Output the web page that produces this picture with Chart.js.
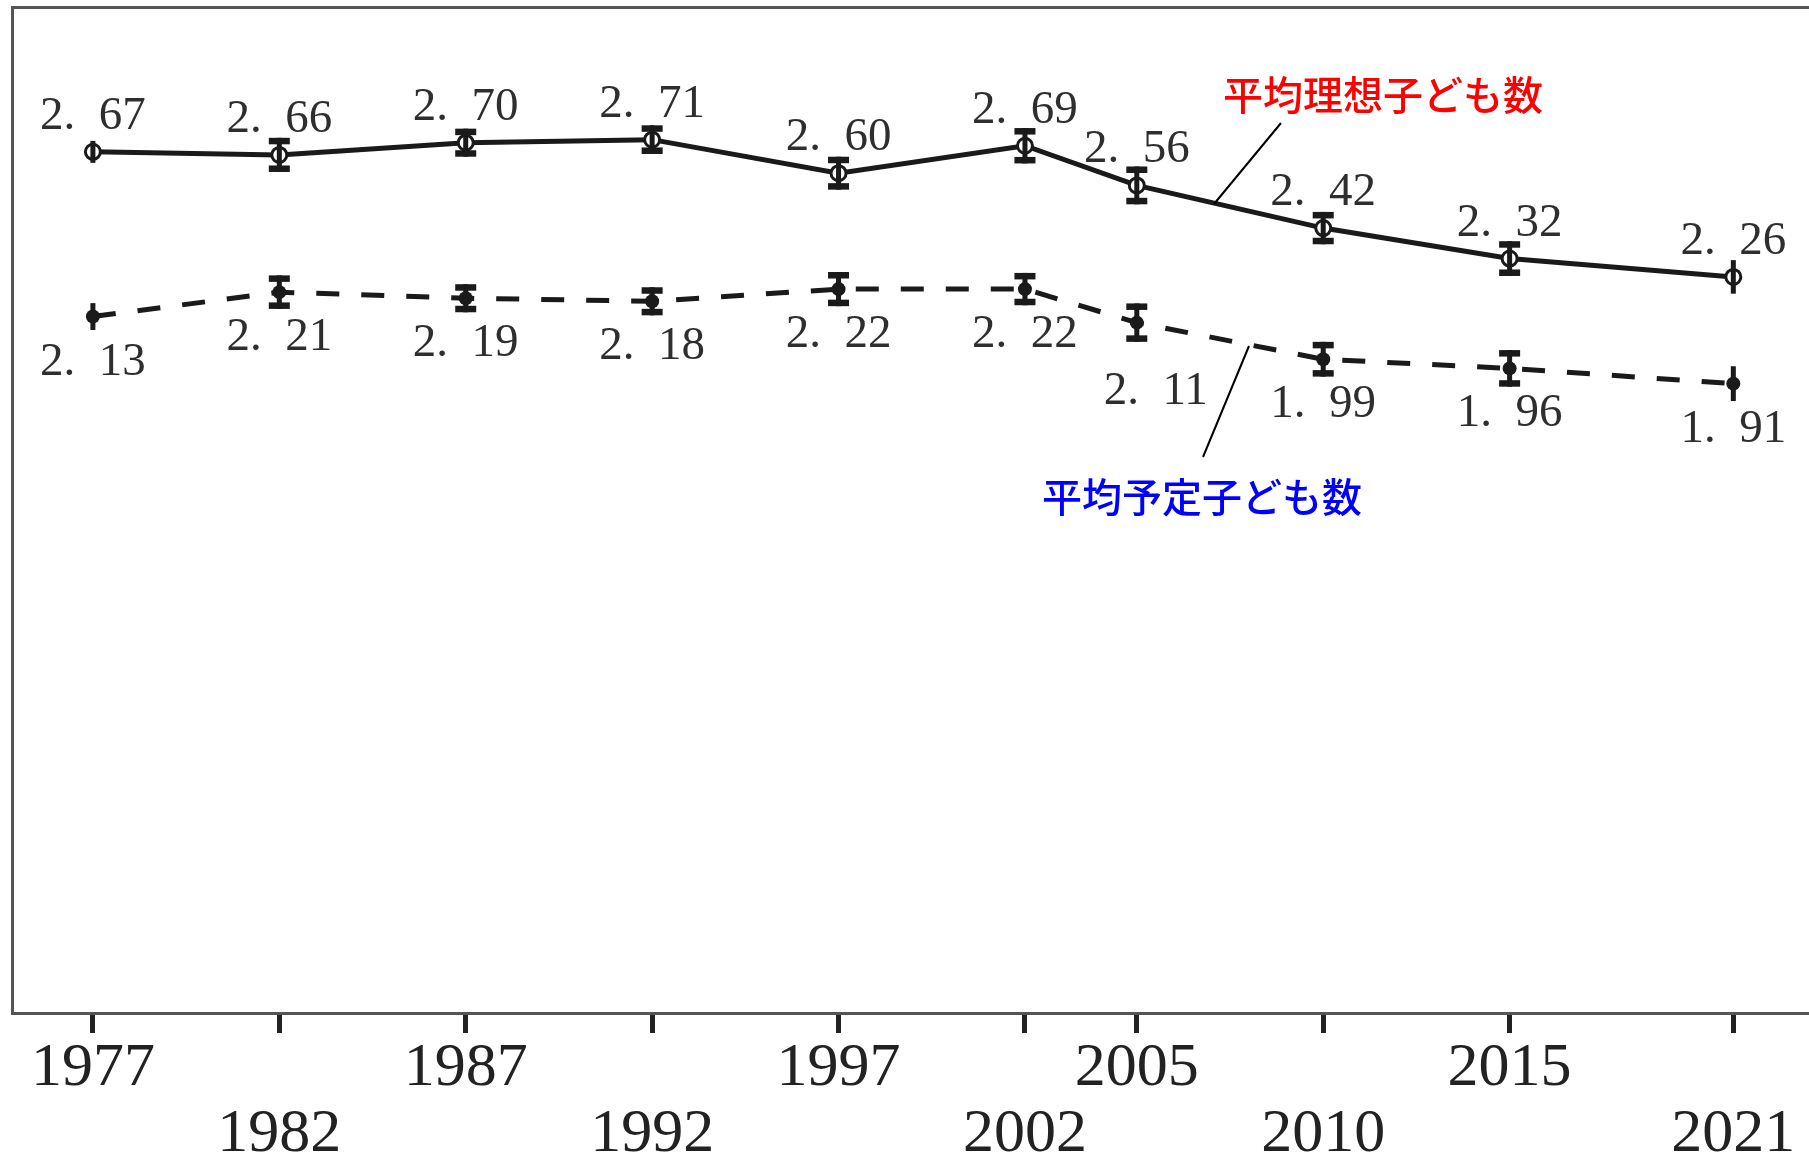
<!DOCTYPE html>
<html lang="ja">
<head>
<meta charset="utf-8">
<script src="https://cdn.jsdelivr.net/npm/chart.js@4/dist/chart.umd.min.js"></script>
<style>
  html, body { margin: 0; padding: 0; background: #fff; }
  #wrap { width: 1809px; height: 1159px; }
</style>
</head>
<body>
<div id="wrap"><canvas id="c" width="1809" height="1159"></canvas></div>
<script>
// Survey years
const years = [1977, 1982, 1987, 1992, 1997, 2002, 2005, 2010, 2015, 2021];
// Ideal number of children (solid line) and its error range
const idealValues = [2.67, 2.66, 2.70, 2.71, 2.60, 2.69, 2.56, 2.42, 2.32, 2.26];
const idealErrors = [0.036, 0.056, 0.046, 0.047, 0.054, 0.058, 0.062, 0.053, 0.057, 0.055];
// Intended number of children (dashed line) and its error range
const plannedValues = [2.13, 2.21, 2.19, 2.18, 2.22, 2.22, 2.11, 1.99, 1.96, 1.91];
const plannedErrors = [0.044, 0.055, 0.046, 0.046, 0.056, 0.053, 0.063, 0.057, 0.060, 0.057];
// Tick labels on the lower staggered row
const lowerRowYears = [1982, 1992, 2002, 2010, 2021];
// Series names
const idealName = '平均理想子ども数';
const plannedName = '平均予定子ども数';

const INK = '#1a1a1a';
const LABEL_FONT = '47px "Liberation Serif", "DejaVu Serif", serif';
const capless = [0, years.length - 1];

function fmt(v) {
  return v.toFixed(2).replace('.', '.\u2002');
}

// Frame lines on the left and top of the plotting area
const framePlugin = {
  id: 'frame',
  beforeDatasetsDraw(chart) {
    const { ctx, chartArea: a } = chart;
    ctx.save();
    ctx.strokeStyle = '#555';
    ctx.lineWidth = 3;
    ctx.beginPath();
    ctx.moveTo(a.left + 0.5, a.bottom);
    ctx.lineTo(a.left + 0.5, a.top + 0.5);
    ctx.lineTo(chart.width + 5, a.top + 0.5);
    ctx.stroke();
    ctx.restore();
  }
};

// Vertical error bars with caps
const errorBarPlugin = {
  id: 'errorBars',
  afterDatasetsDraw(chart) {
    const { ctx } = chart;
    const xs = chart.scales.x, ys = chart.scales.y;
    ctx.save();
    ctx.fillStyle = INK;
    chart.data.datasets.forEach(ds => {
      ds.data.forEach((p, i) => {
        const e = ds.errors[i];
        const x = xs.getPixelForValue(p.x);
        const yTop = ys.getPixelForValue(p.y + e);
        const yBot = ys.getPixelForValue(p.y - e);
        ctx.fillRect(x - 2.5, yTop, 5, yBot - yTop);
        if (!capless.includes(i)) {
          ctx.fillRect(x - 10.5, yTop, 21, 6.5);
          ctx.fillRect(x - 10.5, yBot - 6.5, 21, 6.5);
        }
      });
    });
    ctx.restore();
  }
};

// Value labels and the series call-outs
const labelPlugin = {
  id: 'valueLabels',
  afterDraw(chart) {
    const { ctx } = chart;
    const xs = chart.scales.x, ys = chart.scales.y;
    ctx.save();
    ctx.font = LABEL_FONT;
    ctx.fillStyle = '#2e2e2e';
    ctx.textAlign = 'center';
    ctx.textBaseline = 'alphabetic';
    years.forEach((yr, i) => {
      const x = xs.getPixelForValue(yr);
      const yi = ys.getPixelForValue(idealValues[i]);
      ctx.fillText(fmt(idealValues[i]), x, yi - 23);
      const yp = ys.getPixelForValue(plannedValues[i]);
      if (yr === 2005) {
        ctx.fillText(fmt(plannedValues[i]), x + 19, yp + 81);
      } else {
        ctx.fillText(fmt(plannedValues[i]), x, yp + 58);
      }
    });

    // call-out leaders
    ctx.strokeStyle = '#000';
    ctx.lineWidth = 2;
    ctx.beginPath();
    ctx.moveTo(1281, 123); ctx.lineTo(1214, 204);
    ctx.moveTo(1249, 346); ctx.lineTo(1203, 457);
    ctx.stroke();

    ctx.font = '500 40px "Noto Sans CJK JP", "Noto Sans", sans-serif';
    ctx.textBaseline = 'middle';
    ctx.fillStyle = '#ff0000';
    ctx.fillText(idealName, 1383, 95);
    ctx.fillStyle = '#0000ff';
    ctx.fillText(plannedName, 1202, 497);
    ctx.restore();
  }
};

const toPoints = vals => years.map((y, i) => ({ x: y, y: vals[i] }));

new Chart(document.getElementById('c'), {
  type: 'line',
  data: {
    datasets: [
      {
        label: idealName,
        data: toPoints(idealValues),
        errors: idealErrors,
        borderColor: INK,
        borderWidth: 5,
        tension: 0,
        pointRadius: 7.5,
        pointBorderWidth: 3,
        pointBackgroundColor: '#fff',
        pointBorderColor: INK
      },
      {
        label: plannedName,
        data: toPoints(plannedValues),
        errors: plannedErrors,
        borderColor: INK,
        borderWidth: 5,
        borderDash: [23, 22],
        tension: 0,
        pointRadius: 7,
        pointBorderWidth: 0,
        pointBackgroundColor: INK,
        pointBorderColor: INK
      }
    ]
  },
  options: {
    responsive: false,
    animation: false,
    devicePixelRatio: 1,
    layout: { autoPadding: false, padding: { left: 12, top: 7, right: 0, bottom: 0 } },
    plugins: { legend: { display: false }, tooltip: { enabled: false } },
    scales: {
      x: {
        type: 'linear',
        min: 1974.83,
        max: 2023.03,
        afterBuildTicks(scale) {
          scale.ticks = years.map(v => ({ value: v }));
        },
        afterFit(scale) {
          scale.height = 146;
          scale.paddingLeft = 0;
          scale.paddingRight = 0;
        },
        border: { display: true, color: '#555', width: 3 },
        grid: {
          display: true,
          drawOnChartArea: false,
          drawTicks: true,
          tickLength: 20,
          tickWidth: 5,
          tickColor: '#222'
        },
        ticks: {
          autoSkip: false,
          maxRotation: 0,
          minRotation: 0,
          padding: 2,
          color: '#222',
          font: { family: '"Liberation Serif", "DejaVu Serif", serif', size: 62, lineHeight: 1.076 },
          callback(v) {
            const s = String(v);
            return lowerRowYears.includes(v) ? ['', s] : [s, ''];
          }
        }
      },
      y: {
        display: false,
        min: -0.1535,
        max: 3.1449
      }
    }
  },
  plugins: [framePlugin, errorBarPlugin, labelPlugin]
});
</script>
</body>
</html>
